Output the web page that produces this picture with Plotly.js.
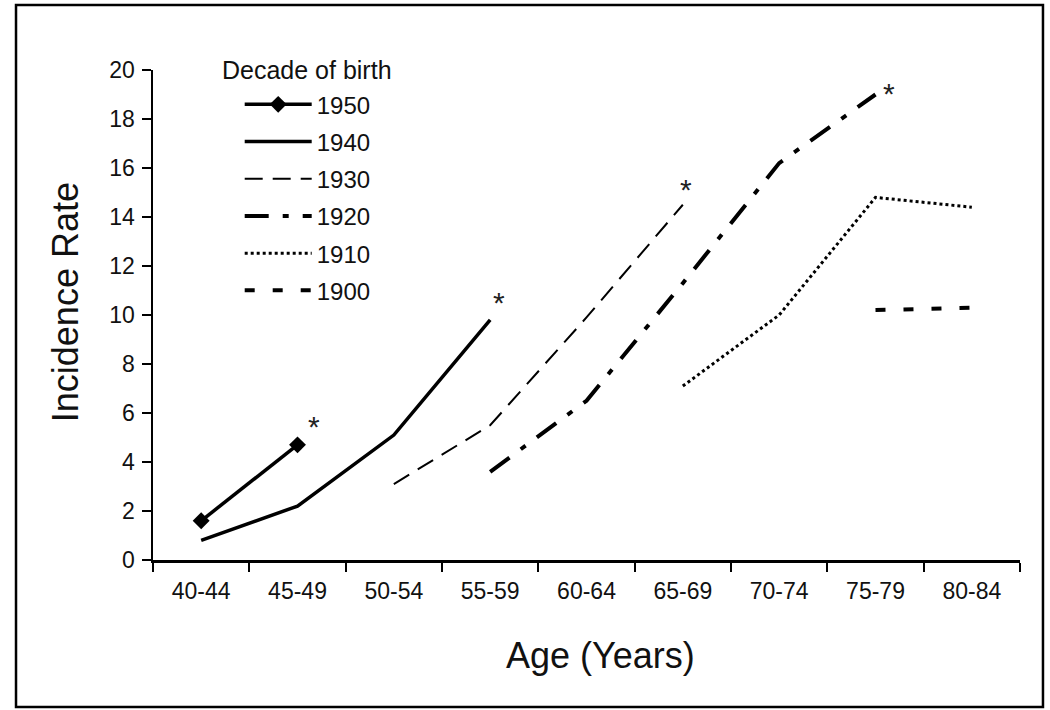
<!DOCTYPE html>
<html>
<head>
<meta charset="utf-8">
<script src="https://cdn.plot.ly/plotly-3.0.1.min.js"></script>
<style>
  html, body { margin: 0; padding: 0; background: #fff; }
  #chart { width: 1050px; height: 710px; }
</style>
</head>
<body>
<div id="chart"></div>
<script>
// age groups on the x axis
const ageGroups = ["40-44", "45-49", "50-54", "55-59", "60-64", "65-69", "70-74", "75-79", "80-84"];

// incidence rate per birth decade (null = no data for that age group)
const cohort1950 = [1.6, 4.7, null, null, null, null, null, null, null];
const cohort1940 = [0.8, 2.2, 5.1, 9.8, null, null, null, null, null];
const cohort1930 = [null, null, 3.1, 5.5, 9.9, 14.5, null, null, null];
const cohort1920 = [null, null, null, 3.6, 6.5, 11.3, 16.2, 19.0, null];
const cohort1910 = [null, null, null, null, null, 7.1, 10.0, 14.8, 14.4];
const cohort1900 = [null, null, null, null, null, null, null, 10.2, 10.3];

// last points flagged with an asterisk
const starGroups = ["45-49", "55-59", "65-69", "75-79"];
const starValues = [4.7, 9.8, 14.5, 19.0];

const FONT = "'Liberation Sans', Arial, Helvetica, sans-serif";

// pixel nudges for the asterisks
const starShifts = [[16, 18], [9, 17], [3, 15], [13, 1]];

function series(name, values, line, extra) {
  return Object.assign({
    x: ageGroups,
    y: values,
    name: name,
    legendgroup: name,
    type: "scatter",
    mode: "lines",
    line: Object.assign({ color: "#000" }, line),
    connectgaps: false,
    hoverinfo: "x+y+name",
  }, extra || {});
}

const traces = [
  series("1950", cohort1950, { width: 3.5 }, {
    mode: "lines+markers",
    marker: { symbol: "diamond", size: 13, color: "#000" },
  }),
  series("1940", cohort1940, { width: 3.5 }),
  series("1930", cohort1930, { width: 2, dash: "18px,10px" }),
  series("1920", cohort1920, { width: 4, dash: "24px,14px,6px,14px" }),
  series("1910", cohort1910, { width: 3, dash: "3px,3px" }),
  series("1900", cohort1900, { width: 4, dash: "10px,18px" }),
];

const annotations = starGroups.map((g, i) => ({
  x: g,
  y: starValues[i],
  xref: "x",
  yref: "y",
  text: "*",
  showarrow: false,
  xshift: starShifts[i][0],
  yshift: starShifts[i][1],
  font: { family: FONT, size: 30, color: "#222" },
}));

// legend heading and axis titles placed as in the original figure
annotations.push(
  {
    xref: "paper", yref: "paper", x: 0.077, y: 1.0,
    xanchor: "left", yanchor: "middle",
    text: "Decade of birth", showarrow: false,
    font: { family: FONT, size: 25, color: "#111" },
  },
  {
    xref: "paper", yref: "paper", x: 0.516, y: -0.194,
    xanchor: "center", yanchor: "middle",
    text: "Age (Years)", showarrow: false,
    font: { family: FONT, size: 36, color: "#111" },
  },
  {
    xref: "paper", yref: "paper", x: -0.101, y: 0.527,
    xanchor: "center", yanchor: "middle", textangle: -90,
    text: "Incidence Rate", showarrow: false,
    font: { family: FONT, size: 36, color: "#111" },
  }
);

const layout = {
  width: 1050,
  height: 710,
  margin: { l: 153, r: 30, t: 70, b: 150 },
  paper_bgcolor: "#fff",
  plot_bgcolor: "#fff",
  font: { family: FONT, color: "#111" },
  showlegend: true,
  legend: {
    x: 0.1,
    y: 0.975,
    xanchor: "left",
    yanchor: "top",
    bgcolor: "rgba(0,0,0,0)",
    traceorder: "grouped",
    itemwidth: 67,
    tracegroupgap: 3,
    font: { family: FONT, size: 24, color: "#111" },
  },
  xaxis: {
    type: "category",
    range: [-0.5, 8.5],
    tickson: "boundaries",
    ticks: "outside",
    ticklen: 9,
    tickwidth: 2,
    tickcolor: "#000",
    ticklabelstandoff: 9,
    showline: true,
    linewidth: 2.5,
    linecolor: "#000",
    showgrid: false,
    zeroline: false,
    tickfont: { family: FONT, size: 23, color: "#111" },
  },
  yaxis: {
    range: [0, 20],
    dtick: 2,
    ticks: "outside",
    ticklen: 9,
    tickwidth: 2,
    tickcolor: "#000",
    ticklabelstandoff: 2,
    showline: true,
    linewidth: 2.5,
    linecolor: "#000",
    showgrid: false,
    zeroline: false,
    tickfont: { family: FONT, size: 23, color: "#111" },
  },
  annotations: annotations,
  shapes: [{
    type: "rect",
    xref: "paper",
    yref: "paper",
    x0: -0.158,
    x1: 1.0265,
    y0: -0.3,
    y1: 1.1327,
    line: { color: "#000", width: 2.5 },
  }],
};

Plotly.newPlot("chart", traces, layout, { displayModeBar: false, staticPlot: true });
</script>
</body>
</html>
